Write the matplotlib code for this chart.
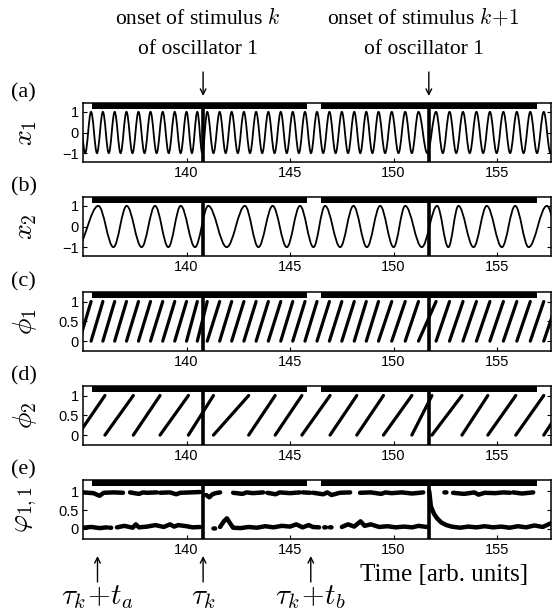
import numpy as np
import matplotlib
matplotlib.use('Agg')
import matplotlib.pyplot as plt
from matplotlib.path import Path
from matplotlib.patches import PathPatch
from matplotlib.transforms import blended_transform_factory

plt.rcParams['mathtext.fontset'] = 'cm'
plt.rcParams['font.family'] = 'Liberation Sans'

nan = np.nan

# time window, stimulus onsets and stimulus periods (black bars)
t_lim = (135.0, 157.6)
onsets = [140.8, 151.7]
stim_on = [135.45, 146.5]
stim_off = [145.8, 156.9]
marks = [135.7, 140.8, 146.0]
mark_labels = [r'$\tau_k\!+\!t_a$', r'$\tau_k$', r'$\tau_k\!+\!t_b$']

# oscillator 1: peak times of x1
x1_peaks = [134.82, 135.39, 135.96, 136.53, 137.1, 137.68, 138.26, 138.85, 139.43,
            140.0, 140.52, 141.0, 141.6, 142.18, 142.77, 143.36, 143.95, 144.55,
            145.13, 145.72, 146.3, 146.9, 147.5, 148.1, 148.68, 149.27, 149.91,
            150.56, 151.2, 152.05, 152.7, 153.35, 154.0, 154.65, 155.3, 155.95,
            156.6, 157.25, 157.9]

# oscillator 2: peak and trough times of x2
x2_peaks = [135.74, 137.11, 138.48, 139.72, 141.05, 142.82, 144.16, 145.48, 146.69,
            148.06, 149.35, 150.56, 152.1, 153.13, 154.5, 155.87, 157.4]
x2_troughs = [134.7, 136.47, 137.83, 139.12, 140.41, 141.94, 143.47, 144.84, 146.13,
              147.42, 148.71, 150.0, 151.36, 152.64, 153.86, 155.23, 156.52, 158.1]

# phase wrap times (phase goes 0 -> 1 between consecutive wraps)
phi1_wraps = x1_peaks
phi2_wraps = [134.75, 136.06, 137.43, 138.72, 140.09, 141.3, 143.0, 144.28, 145.57,
              146.93, 148.22, 149.51, 150.88, 151.85, 153.3, 154.55, 155.9, 157.25, 158.5]

# relative phase phi_{1,1}: upper and lower branch
rel_top_t = [135.0, 135.5, 135.8, 136.0, 136.5, 136.93, nan,
             137.27, 137.7, 137.9, 138.1, 138.57, nan,
             138.72, 139.2, 139.5, 139.7, 140.2, 140.65, nan,
             140.95, 141.1, 141.25, 141.4, 141.62, nan,
             142.25, 142.7, 142.9, 143.2, 143.7, nan,
             143.9, 144.3, 144.5, 145.0, 145.48, nan,
             145.62, 145.97, nan,
             146.11, 146.6, 146.8, 147.0, 147.4, 147.9, nan,
             148.38, 148.9, 149.4, 149.6, 149.9, 150.4, 150.9, 151.43, nan,
             152.45, 152.55, nan,
             152.87, 153.4, 153.9, 154.1, 154.4, 154.9, 155.3, 155.63, nan,
             155.77, 156.2, 156.74]
rel_top_v = [0.97, 0.95, 0.88, 0.96, 0.97, 0.96, nan,
             0.97, 0.93, 0.97, 0.96, 0.97, nan,
             0.96, 0.97, 0.92, 0.96, 0.97, 0.98, nan,
             0.9, 0.84, 0.92, 0.95, 0.97, nan,
             0.96, 0.93, 0.97, 0.95, 0.97, nan,
             0.96, 0.92, 0.97, 0.95, 0.97, nan,
             0.97, 0.96, nan,
             0.96, 0.92, 0.97, 0.9, 0.96, 0.97, nan,
             0.96, 0.97, 0.93, 0.97, 0.95, 0.97, 0.94, 0.97, nan,
             0.97, 0.97, nan,
             0.96, 0.93, 0.97, 0.91, 0.96, 0.95, 0.97, 0.96, nan,
             0.97, 0.94, 0.97]
rel_bot_t = [135.0, 135.4, 135.8, 136.16, nan, 136.28, 136.36, nan,
             136.64, 137.0, 137.4, 137.55, 137.7, 138.1, 138.5, 138.9, 139.2,
             139.4, 139.6, 140.0, 140.3, 140.65, nan, 141.3, 141.38, nan,
             141.62, 141.8, 141.95, 142.1, 142.25, 142.6, 143.0, 143.4, 143.8,
             144.2, 144.6, 145.0, 145.3, 145.6, 145.9, 146.1, 146.4, nan,
             146.65, 146.73, nan, 146.92, 147.0, nan,
             147.5, 147.8, 148.1, 148.4, 148.6, 148.9, 149.3, 149.7, 150.1,
             150.5, 150.9, 151.2, 151.6, nan,
             151.72, 151.8, 151.95, 152.1, 152.3, 152.55, 152.8, 153.2, 153.6,
             154.0, 154.4, 154.8, 155.2, 155.6, 156.0, 156.4, 156.8, 157.2, 157.6]
rel_bot_v = [0.03, 0.05, 0.02, 0.04, nan, 0.03, 0.03, nan,
             0.04, 0.08, 0.03, 0.12, 0.04, 0.06, 0.1, 0.05, 0.12,
             0.06, 0.1, 0.07, 0.04, 0.05, nan, 0.01, 0.01, nan,
             0.05, 0.2, 0.28, 0.15, 0.03, 0.02, 0.05, 0.03, 0.07,
             0.04, 0.08, 0.06, 0.12, 0.04, 0.1, 0.05, 0.04, nan,
             0.04, 0.04, nan, 0.04, 0.04, nan,
             0.05, 0.12, 0.06, 0.2, 0.08, 0.12, 0.05, 0.07, 0.04,
             0.06, 0.04, 0.08, 0.05, nan,
             1.0, 0.6, 0.4, 0.28, 0.17, 0.1, 0.06, 0.03, 0.06,
             0.04, 0.07, 0.04, 0.06, 0.03, 0.07, 0.04, 0.09, 0.05, 0.15]


def wave(ax, times, values, **kw):
    # half-cosine shaped cubic segments between successive extremes
    k = 1 - 2 / np.pi
    verts = [(times[0], values[0])]
    codes = [Path.MOVETO]
    for i in range(len(times) - 1):
        d = times[i + 1] - times[i]
        verts += [(times[i] + k * d, values[i]), (times[i + 1] - k * d, values[i + 1]),
                  (times[i + 1], values[i + 1])]
        codes += [Path.CURVE4] * 3
    ax.add_patch(PathPatch(Path(verts, codes), fill=False, **kw))


def ramps(ax, wraps, **kw):
    ts, ys = [], []
    for a, b in zip(wraps[:-1], wraps[1:]):
        ts += [a, b, nan]
        ys += [0, 1, nan]
    ax.plot(ts, ys, **kw)


fig = plt.figure(figsize=(5.53, 6.14), dpi=100)
W, H = 553, 614
tops = [103, 197, 292, 386, 480]
hgt = 59
axes = [fig.add_axes([83 / W, 1 - (t + hgt) / H, 468 / W, hgt / H]) for t in tops]
ax_a, ax_b, ax_c, ax_d, ax_e = axes

# (a) x1: peaks with troughs half way
ext_t, ext_v = [], []
for a, b in zip(x1_peaks[:-1], x1_peaks[1:]):
    ext_t += [a, (a + b) / 2]
    ext_v += [1, -1]
ext_t.append(x1_peaks[-1])
ext_v.append(1)
wave(ax_a, ext_t, ext_v, lw=1.3, color='black')

# (b) x2
x2_t = sorted(x2_peaks + x2_troughs)
x2_v = [1 if t in x2_peaks else -1 for t in x2_t]
wave(ax_b, x2_t, x2_v, lw=1.3, color='black')

ramps(ax_c, phi1_wraps, lw=2.3, color='black', solid_capstyle='round')
ramps(ax_d, phi2_wraps, lw=2.3, color='black', solid_capstyle='round')

ax_e.plot(rel_top_t, rel_top_v, lw=3.2, color='black', solid_capstyle='round')
ax_e.plot(rel_bot_t, rel_bot_v, lw=3.2, color='black', solid_capstyle='round')

ylims = [(-1.43, 1.43), (-1.43, 1.43), (-0.25, 1.24), (-0.25, 1.24), (-0.27, 1.3)]
yticks = [[-1, 0, 1], [-1, 0, 1], [0, 0.5, 1], [0, 0.5, 1], [0, 0.5, 1]]
ytlabels = [['\u22121', '0', '1'], ['\u22121', '0', '1'], ['0', '0.5', '1'],
            ['0', '0.5', '1'], ['0', '0.5', '1']]
ylabels = [r'$x_1$', r'$x_2$', r'$\phi_1$', r'$\phi_2$', r'$\varphi_{1,1}$']
letters = ['(a)', '(b)', '(c)', '(d)', '(e)']

for ax, yl, yt, ytl, lab, let, top in zip(axes, ylims, yticks, ytlabels, ylabels, letters, tops):
    ax.set_xlim(*t_lim)
    ax.set_ylim(*yl)
    ax.set_yticks(yt)
    ax.set_yticklabels(ytl)
    ax.set_xticks([140, 145, 150, 155])
    ax.tick_params(direction='in', top=True, right=True, length=3, width=0.8,
                   labelsize=10.5, pad=3)
    for s in ax.spines.values():
        s.set_linewidth(1.1)
    for t0, t1 in zip(stim_on, stim_off):
        ax.fill_between([t0, t1], 0.9, 1.0, color='black', lw=0,
                        transform=ax.get_xaxis_transform())
    for t in onsets:
        ax.axvline(t, color='black', lw=2.6)
    ax.set_ylabel(lab, fontsize=20, rotation=90)
    ax.yaxis.set_label_coords(-0.095, 0.5)
    fig.text(11 / W, 1 - (top - 10) / H, let, family='Liberation Serif', fontsize=16,
             va='center', ha='left')

# annotations above panel (a)
trans_top = blended_transform_factory(ax_a.transData, fig.transFigure)
top_texts = ['onset of stimulus $k$', 'onset of stimulus $k\\!+\\!1$']
for t, s in zip(onsets, top_texts):
    ax_a.text(t - 0.25, 1 - 18 / H, s, transform=trans_top, ha='center', va='center',
              family='Liberation Serif', fontsize=15.5, clip_on=False)
    ax_a.text(t - 0.25, 1 - 50 / H, 'of oscillator 1', transform=trans_top, ha='center',
              va='center', family='Liberation Serif', fontsize=15.5, clip_on=False)
    ax_a.annotate('', xy=(t, 1 - 96 / H), xytext=(t, 1 - 72 / H),
                  xycoords=trans_top, textcoords=trans_top, annotation_clip=False,
                  arrowprops=dict(arrowstyle='->', lw=1.0, color='black',
                                  shrinkA=0, shrinkB=0))

# markers below panel (e)
trans_bot = blended_transform_factory(ax_e.transData, fig.transFigure)
for t, s in zip(marks, mark_labels):
    ax_e.annotate('', xy=(t, 1 - 556 / H), xytext=(t, 1 - 582 / H),
                  xycoords=trans_bot, textcoords=trans_bot, annotation_clip=False,
                  arrowprops=dict(arrowstyle='->', lw=1.0, color='black',
                                  shrinkA=0, shrinkB=0))
    ax_e.text(t, 1 - 597 / H, s, transform=trans_bot, ha='center', va='center',
              fontsize=21, clip_on=False)
fig.text(444 / W, 1 - 575 / H, 'Time [arb. units]', family='Liberation Serif',
         fontsize=18, ha='center', va='center')

fig.savefig('out.png', dpi=100)
